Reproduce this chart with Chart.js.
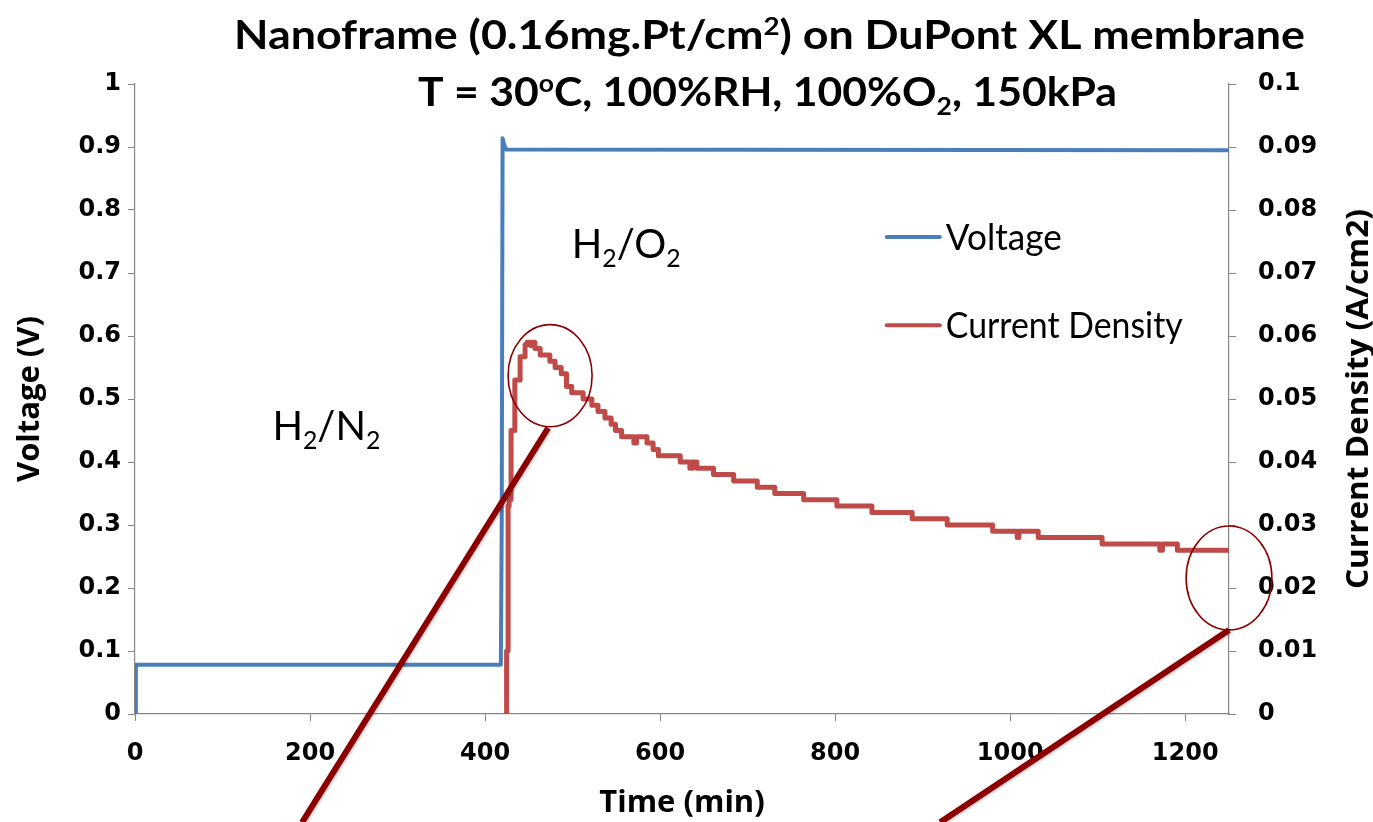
<!DOCTYPE html>
<html><head><meta charset="utf-8">
<script src="https://cdn.jsdelivr.net/npm/chart.js@4"></script>
<style>html,body{margin:0;padding:0;background:#fff;}#wrap{width:1373px;height:822px;}</style>
</head><body><div id="wrap"><canvas id="c" width="1373" height="822"></canvas></div>
<script>
// ---- data ----
const xMin = 0, xMax = 1250, xStep = 200;
const voltMin = 0, voltMax = 1, voltStep = 0.1;
const curMin = 0, curMax = 0.1, curStep = 0.01;

const voltageTime   = [0, 1, 418, 419, 420, 421.5, 424, 1250];
const voltageValues = [0, 0.078, 0.078, 0.3, 0.914, 0.905, 0.896, 0.895];

const currentTime = [423, 424.6, 426.3, 427.5, 429.7, 434, 440, 445.7, 448, 452, 455, 457, 463, 474, 480, 487, 493, 499, 512, 522, 529, 537, 544, 549, 556, 570, 573, 585, 592, 598, 623, 634, 637, 642, 661, 684, 711, 731, 764, 802, 842, 888, 928, 980, 1008, 1010, 1032, 1105, 1171, 1174, 1191, 1250];
const currentValues = [0, 0.010, 0.033, 0.034, 0.045, 0.053, 0.0567, 0.0586, 0.059, 0.0585, 0.059, 0.058, 0.057, 0.056, 0.055, 0.054, 0.052, 0.051, 0.050, 0.049, 0.048, 0.047, 0.046, 0.045, 0.044, 0.043, 0.044, 0.043, 0.042, 0.041, 0.040, 0.039, 0.040, 0.039, 0.038, 0.037, 0.036, 0.035, 0.034, 0.033, 0.032, 0.031, 0.030, 0.029, 0.028, 0.029, 0.028, 0.027, 0.026, 0.027, 0.026, 0.026];

const seriesNames = ['Voltage', 'Current Density'];
const seriesColors = ['#4A7EBB', '#BE4B48'];
const axisTitles = ['Time (min)', 'Voltage (V)', 'Current Density (A/cm2)'];

// title & annotation text (segments: n = normal, s = subscript, p = superscript)
const titleLine1 = [['n','Nanoframe (0.16mg.Pt/cm'],['p','2'],['n',') on DuPont XL membrane']];
const titleLine2 = [['n','T = 30'],['p','o'],['n','C, 100%RH, 100%O'],['s','2'],['n',', 150kPa']];
const labelN2 = [['n','H'],['s','2'],['n','/N'],['s','2']];
const labelO2 = [['n','H'],['s','2'],['n','/O'],['s','2']];
// annotation anchors in data units (time, voltage) / (time, current density)
const labelN2Pos = [157, 0.435];
const labelO2Pos = [499, 0.724];
const ellipses = [ {t:474.3, j:0.0537, rt:48, rj:0.0081}, {t:1250, j:0.0216, rt:49, rj:0.00825} ];
const pointerLines = [ {t1:472, j1:0.0454, t2:190.9, j2:-0.0172}, {t1:1250, j1:0.01333, t2:920, j2:-0.0172} ];
const legendAnchor = {t:859, v:[0.757, 0.617]};

const DARKRED = '#8B0000';
const AXIS_FONT = 'Open Sans';

function drawRich(ctx, segs, x, y, size, weight, family, targetW, align) {
  const subSize = size * 0.62;
  let w = 0;
  const parts = segs.map(([k, t]) => {
    const fs = k === 'n' ? size : subSize;
    ctx.font = weight + ' ' + fs + 'px "' + family + '"';
    const mw = ctx.measureText(t).width;
    w += mw;
    return {k, t, fs, mw};
  });
  const sx = targetW ? targetW / w : 1;
  ctx.save();
  let x0 = x;
  if (align === 'center') x0 = x - w * sx / 2;
  ctx.translate(x0, y);
  ctx.scale(sx, 1);
  ctx.textBaseline = 'alphabetic';
  ctx.textAlign = 'left';
  let cx = 0;
  parts.forEach(p => {
    ctx.font = weight + ' ' + p.fs + 'px "' + family + '"';
    let dy = 0;
    if (p.k === 's') dy = size * 0.22;
    if (p.k === 'p') dy = -size * 0.36;
    ctx.fillText(p.t, cx, dy);
    cx += p.mw;
  });
  ctx.restore();
}

const decor = {
  id: 'decor',
  afterDatasetsDraw(chart) {
    const {ctx, scales, chartArea} = chart;
    const X = scales.x, V = scales.y, J = scales.y1;
    ctx.save();
    ctx.fillStyle = '#000';
    // chart title
    drawRich(ctx, titleLine1, 769.5, 49, 40, 'bold', 'Lato', 1071, 'center');
    drawRich(ctx, titleLine2, 767.5, 106, 40, 'bold', 'Lato', 699, 'center');
    // right axis title, reading bottom to top
    ctx.save();
    ctx.translate(J.right - 16, (chartArea.top + chartArea.bottom) / 2);
    ctx.rotate(-Math.PI / 2);
    drawRich(ctx, [['n', axisTitles[2]]], 0, 11, 31, 'bold', AXIS_FONT, 380, 'center');
    ctx.restore();
    // annotation labels
    drawRich(ctx, labelN2, X.getPixelForValue(labelN2Pos[0]), V.getPixelForValue(labelN2Pos[1]), 41, 'normal', 'Lato', 108, 'left');
    drawRich(ctx, labelO2, X.getPixelForValue(labelO2Pos[0]), V.getPixelForValue(labelO2Pos[1]), 41, 'normal', 'Lato', 109, 'left');
    // ellipses
    ctx.strokeStyle = DARKRED;
    ctx.lineWidth = 1.6;
    ellipses.forEach(e => {
      const cx = X.getPixelForValue(e.t), cy = J.getPixelForValue(e.j);
      const rx = X.getPixelForValue(e.t + e.rt) - cx;
      const ry = cy - J.getPixelForValue(e.j + e.rj);
      ctx.beginPath();
      ctx.ellipse(cx, cy, rx, ry, 0, 0, Math.PI * 2);
      ctx.stroke();
    });
    // pointer lines
    ctx.lineWidth = 6;
    ctx.lineCap = 'butt';
    ctx.shadowColor = 'rgba(0,0,0,0.25)';
    ctx.shadowBlur = 3;
    ctx.shadowOffsetX = 1; ctx.shadowOffsetY = 1;
    pointerLines.forEach(l => {
      ctx.beginPath();
      ctx.moveTo(X.getPixelForValue(l.t1), J.getPixelForValue(l.j1));
      ctx.lineTo(X.getPixelForValue(l.t2), J.getPixelForValue(l.j2));
      ctx.stroke();
    });
    ctx.shadowColor = 'transparent';
    // legend
    chart.data.datasets.forEach((ds, i) => {
      const lx = X.getPixelForValue(legendAnchor.t);
      const ly = V.getPixelForValue(legendAnchor.v[i]);
      ctx.strokeStyle = ds.borderColor;
      ctx.lineWidth = 4;
      ctx.lineCap = 'round';
      ctx.beginPath();
      ctx.moveTo(lx, ly);
      ctx.lineTo(lx + 53, ly);
      ctx.stroke();
      ctx.fillStyle = '#000';
      drawRich(ctx, [['n', ds.label]], lx + 59, ly + 13, 36, 'normal', 'Lato', i === 0 ? 116 : 237, 'left');
    });
    ctx.restore();
  }
};

const toPts = (ts, vs) => ts.map((t, i) => ({x: t, y: vs[i]}));
const tickFont = {family: 'DejaVu Sans', weight: 'bold', size: 24};
const axisCol = '#868686';
const fmt = v => String(+Number(v).toFixed(4));
const titleFont = {family: AXIS_FONT, weight: 'bold', size: 31};

new Chart(document.getElementById('c'), {
  type: 'line',
  data: {
    datasets: [
      {label: seriesNames[0], data: toPts(voltageTime, voltageValues), yAxisID: 'y', borderColor: seriesColors[0], borderWidth: 4, pointRadius: 0, tension: 0, borderJoinStyle: 'round'},
      {label: seriesNames[1], data: toPts(currentTime, currentValues), yAxisID: 'y1', borderColor: seriesColors[1], borderWidth: 5, pointRadius: 0, tension: 0, stepped: 'before', borderJoinStyle: 'round'}
    ]
  },
  options: {
    responsive: false, animation: false, devicePixelRatio: 1,
    layout: {padding: {top: 84, left: 0, right: 0, bottom: 0}},
    plugins: {legend: {display: false}, title: {display: false}, tooltip: {enabled: false}},
    scales: {
      x: {type: 'linear', min: xMin, max: xMax,
          ticks: {stepSize: xStep, includeBounds: false, font: tickFont, color: '#000', padding: 18, callback: fmt, maxRotation: 0},
          grid: {drawOnChartArea: false, drawTicks: true, tickLength: 7, color: axisCol},
          border: {color: axisCol, width: 1.2},
          title: {display: true, text: axisTitles[0], font: titleFont, color: '#000', padding: {top: 1, bottom: 0}},
          afterFit(s) { s.height = 108; }},
      y: {type: 'linear', position: 'left', min: voltMin, max: voltMax,
          ticks: {stepSize: voltStep, font: tickFont, color: '#000', padding: 7, callback: fmt},
          grid: {drawOnChartArea: false, drawTicks: true, tickLength: 7, color: axisCol},
          border: {color: axisCol, width: 1.2},
          title: {display: true, text: axisTitles[1], font: titleFont, color: '#000', padding: {top: 12, bottom: 0}},
          afterFit(s) { s.width = 135; }},
      y1: {type: 'linear', position: 'right', min: curMin, max: curMax,
          ticks: {stepSize: curStep, font: tickFont, color: '#000', padding: 22, callback: fmt},
          grid: {drawOnChartArea: false, drawTicks: true, tickLength: 7, color: axisCol},
          border: {color: axisCol, width: 1.2},
          title: {display: false, text: axisTitles[2]},
          afterFit(s) { s.width = 144; }}
    }
  },
  plugins: [decor]
});
</script>
</body></html>
